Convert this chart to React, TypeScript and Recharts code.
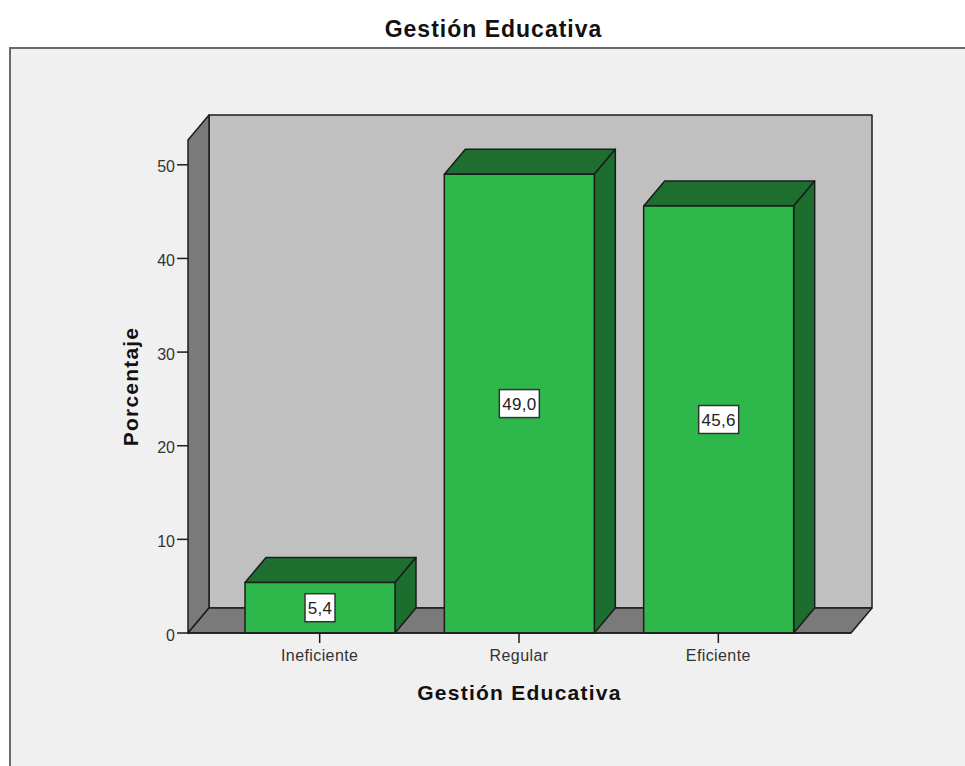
import React from 'react';
import { BarChart, Bar, XAxis, YAxis, ReferenceArea, LabelList } from 'recharts';

const categories = ['Ineficiente', 'Regular', 'Eficiente'];
const percentages = [5.4, 49.0, 45.6];
const yTicks = [0, 10, 20, 30, 40, 50];

const chartData = categories.map((name, i) => ({ name, value: percentages[i] }));

const Y_MAX = 52.65;
const DEPTH_X = 21;
const DEPTH_Y = 25;
const PAD_LEFT = 32;
const PAD_RIGHT = 33;
const EDGE = '#1c1c1c';
const SANS = '"Liberation Sans", Arial, sans-serif';

// back wall, left wall and floor of the 3D box
const Walls = ({ x: areaX, y, width: areaWidth, height }: any) => {
  // the reference area stops at the axis padding, the box goes past it
  const x = areaX - PAD_LEFT;
  const width = areaWidth + PAD_LEFT + PAD_RIGHT;
  const bottom = y + height;
  const right = x + width;
  return (
    <g stroke={EDGE} strokeWidth={1.5} strokeLinejoin="round">
      <rect x={x + DEPTH_X} y={y - DEPTH_Y} width={width} height={height} fill="#c0c0c0" />
      <polygon
        points={`${x},${y} ${x + DEPTH_X},${y - DEPTH_Y} ${x + DEPTH_X},${bottom - DEPTH_Y} ${x},${bottom}`}
        fill="#7a7a7a"
      />
      <polygon
        points={`${x},${bottom} ${x + DEPTH_X},${bottom - DEPTH_Y} ${right + DEPTH_X},${bottom - DEPTH_Y} ${right},${bottom}`}
        fill="#7a7a7a"
      />
    </g>
  );
};

const Bar3D = ({ x, y, width, height }: any) => {
  const r = x + width;
  const b = y + height;
  return (
    <g stroke={EDGE} strokeWidth={1.5} strokeLinejoin="round">
      <polygon
        points={`${x},${y} ${x + DEPTH_X},${y - DEPTH_Y} ${r + DEPTH_X},${y - DEPTH_Y} ${r},${y}`}
        fill="#1e6e30"
      />
      <polygon
        points={`${r},${y} ${r + DEPTH_X},${y - DEPTH_Y} ${r + DEPTH_X},${b - DEPTH_Y} ${r},${b}`}
        fill="#1c6e2e"
      />
      <rect x={x} y={y} width={width} height={height} fill="#2eb84c" />
    </g>
  );
};

const ValueBox = ({ x, y, width, height, value }: any) => {
  const text = Number(value).toFixed(1).replace('.', ',');
  const boxW = text.length > 3 ? 40 : 30;
  const cx = x + width / 2;
  const cy = y + height / 2;
  return (
    <g>
      <rect x={cx - boxW / 2} y={cy - 14} width={boxW} height={28} fill="#ffffff" stroke="#333333" strokeWidth={1.5} />
      <text x={cx} y={cy + 6} textAnchor="middle" fontSize={17} letterSpacing={0.3} fontFamily={SANS} fill="#222222">
        {text}
      </text>
    </g>
  );
};

export default function App() {
  return (
    <div style={{ position: 'absolute', left: 0, top: 0, width: 965, height: 766, background: '#ffffff', overflow: 'hidden' }}>
      <div
        style={{
          position: 'absolute',
          left: 9,
          top: 47,
          width: 970,
          height: 730,
          background: '#f0f0f0',
          border: '2px solid #6a6a6a',
          boxSizing: 'border-box',
        }}
      />
      <div
        style={{
          position: 'absolute',
          left: 0,
          top: 15,
          width: 987,
          textAlign: 'center',
          fontFamily: SANS,
          fontWeight: 700,
          fontSize: 23,
          letterSpacing: 1,
          lineHeight: '28px',
          color: '#111111',
        }}
      >
        Gestión Educativa
      </div>
      <div style={{ position: 'absolute', left: 0, top: 0 }}>
        <BarChart width={965} height={766} data={chartData} margin={{ top: 140, right: 114, bottom: 0, left: 0 }}>
          <XAxis
            dataKey="name"
            height={133}
            padding={{ left: PAD_LEFT, right: PAD_RIGHT }}
            tickSize={10}
            tickMargin={7}
            tick={{ fontSize: 16, letterSpacing: 0.4, fontFamily: SANS, fill: '#333333' }}
            tickLine={{ stroke: EDGE, strokeWidth: 1.5 }}
            axisLine={{ stroke: EDGE, strokeWidth: 1.5 }}
            interval={0}
            label={{
              value: 'Gestión Educativa',
              position: 'insideTop',
              offset: 52,
              fontSize: 21,
              letterSpacing: 1.25,
              fontWeight: 700,
              fontFamily: SANS,
              fill: '#111111',
            }}
          />
          <YAxis
            width={188}
            domain={[0, Y_MAX]}
            ticks={yTicks}
            tickSize={11}
            tickMargin={2}
            tick={{ fontSize: 16, dy: 2, fontFamily: SANS, fill: '#333333' }}
            tickLine={{ stroke: EDGE, strokeWidth: 1.5 }}
            axisLine={false}
            label={{
              value: 'Porcentaje',
              angle: -90,
              position: 'center',
              dx: 37,
              fontSize: 21,
              letterSpacing: 1.2,
              fontWeight: 700,
              fontFamily: SANS,
              fill: '#111111',
            }}
          />
          <ReferenceArea y1={0} y2={Y_MAX} ifOverflow="visible" shape={<Walls />} />
          <Bar dataKey="value" barSize={150} isAnimationActive={false} shape={<Bar3D />}>
            <LabelList dataKey="value" content={<ValueBox />} />
          </Bar>
        </BarChart>
      </div>
    </div>
  );
}
